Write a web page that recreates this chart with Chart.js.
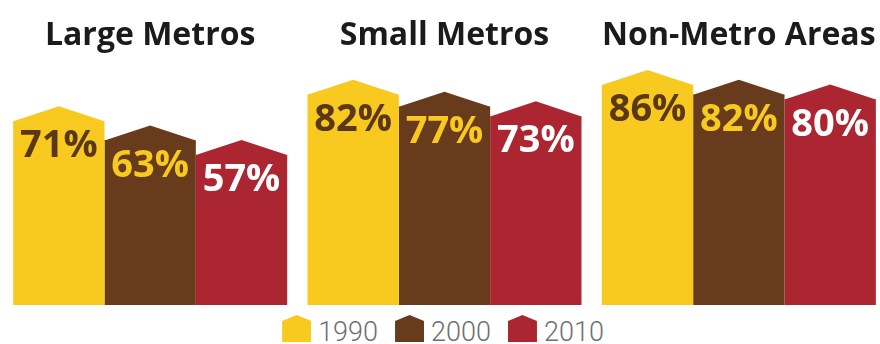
<!DOCTYPE html>
<html>
<head>
<meta charset="utf-8">
<script src="https://cdn.jsdelivr.net/npm/chart.js@4"></script>
<style>
    html, body { margin: 0; padding: 0; background: #fff; overflow: hidden; }
    #chart-wrap { position: relative; width: 886px; height: 305px; }
    #legend {
        position: absolute; top: 315px; left: 0; width: 886px;
        display: flex; justify-content: center; gap: 17px;
        font-family: Roboto, sans-serif; font-weight: 300; font-size: 27px; color: #6f6f6f;
    }
    .legend-item { display: flex; align-items: flex-start; gap: 7px; }
    .legend-icon { width: 29px; height: 27px; clip-path: polygon(0 22%, 50% 0, 100% 22%, 100% 100%, 0 100%); }
    .legend-text { line-height: 27px; margin-top: 4px; }
</style>
</head>
<body>
<div id="chart-wrap"><canvas id="share-chart"></canvas></div>
<div id="legend"></div>
<script>
const regions = ["Large Metros", "Small Metros", "Non-Metro Areas"];
const years = ["1990", "2000", "2010"];
const share1990 = [71, 82, 86];
const share2000 = [63, 77, 82];
const share2010 = [57, 73, 80];

const barColors = ["#f8c91f", "#673b1b", "#ab2631"];
const labelColors = ["#5a3715", "#f8c91f", "#ffffff"];
const yMin = -5.2;
const yMax = 95;

// roof on top of every bar, then the percentage inside it
const houseBars = {
    id: "houseBars",
    afterDatasetsDraw(chart) {
        const ctx = chart.ctx;
        chart.data.datasets.forEach((ds, di) => {
            const meta = chart.getDatasetMeta(di);
            meta.data.forEach((bar, i) => {
                const half = bar.width / 2;
                const roof = bar.width * 0.165;
                ctx.save();
                ctx.fillStyle = ds.backgroundColor;
                ctx.beginPath();
                ctx.moveTo(bar.x - half, bar.y + 0.5);
                ctx.lineTo(bar.x - half, bar.y);
                ctx.lineTo(bar.x, bar.y - roof);
                ctx.lineTo(bar.x + half, bar.y);
                ctx.lineTo(bar.x + half, bar.y + 0.5);
                ctx.closePath();
                ctx.fill();

                ctx.font = "bold 38px 'Open Sans'";
                ctx.fillStyle = labelColors[di];
                ctx.textAlign = "center";
                ctx.textBaseline = "alphabetic";
                ctx.fillText(ds.data[i] + "%", bar.x, bar.y + 36);
                ctx.restore();
            });
        });
    }
};

const seriesData = [share1990, share2000, share2010];

new Chart(document.getElementById("share-chart"), {
    type: "bar",
    data: {
        labels: regions,
        datasets: years.map((year, i) => ({
            label: year,
            data: seriesData[i],
            backgroundColor: barColors[i],
            base: yMin,
            borderWidth: 0
        }))
    },
    options: {
        responsive: true,
        maintainAspectRatio: false,
        animation: false,
        categoryPercentage: 0.931,
        barPercentage: 1,
        layout: { padding: { top: 17, left: 3, right: 0, bottom: 0 } },
        plugins: {
            legend: { display: false },
            tooltip: { enabled: false }
        },
        scales: {
            x: {
                position: "top",
                grid: { display: false },
                border: { display: false },
                ticks: {
                    padding: 0,
                    color: "#1b1b1b",
                    font: { family: "'Open Sans'", size: 32, weight: "bold" }
                }
            },
            y: {
                display: false,
                min: yMin,
                max: yMax
            }
        }
    },
    plugins: [houseBars]
});

// legend below the chart
const legend = document.getElementById("legend");
years.forEach((year, i) => {
    const item = document.createElement("div");
    item.className = "legend-item";
    item.innerHTML = `<span class="legend-icon" style="background:${barColors[i]}"></span><span class="legend-text">${year}</span>`;
    legend.appendChild(item);
});
</script>
</body>
</html>
